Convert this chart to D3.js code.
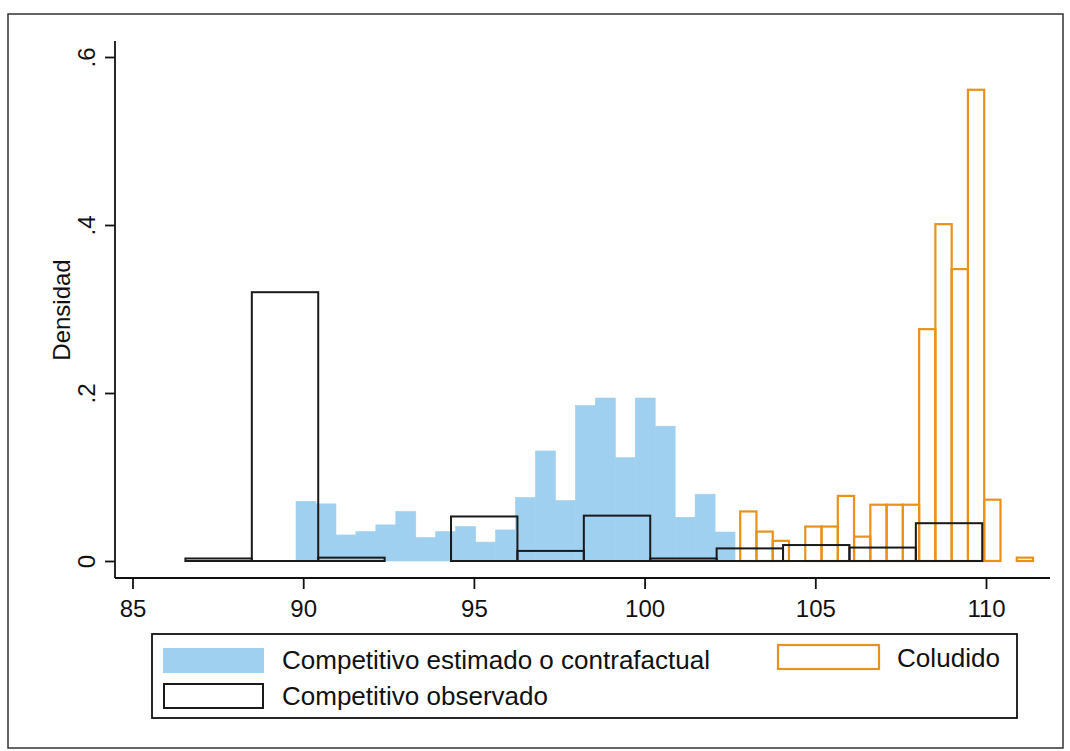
<!DOCTYPE html>
<html>
<head>
<meta charset="utf-8">
<script src="https://cdn.jsdelivr.net/npm/d3@7"></script>
<style>
  html, body { margin: 0; padding: 0; background: #fff; }
  svg { display: block; font-family: "Liberation Sans", Arial, Helvetica, sans-serif; }
</style>
</head>
<body>
<svg id="chart" width="1070" height="751"></svg>
<script>
// ---- data ----
const xTicks = [85, 90, 95, 100, 105, 110];
const yTicks = [0, 0.2, 0.4, 0.6];
const yTickLabels = ["0", ".2", ".4", ".6"];
const yLabel = "Densidad";

// Competitivo estimado o contrafactual (blue, filled)
const blueStart = 89.79;
const blueWidth = 0.5845;
const blueValues = [0.071, 0.068, 0.031, 0.035, 0.043, 0.059, 0.028, 0.035, 0.041, 0.0225, 0.037,
                    0.0755, 0.131, 0.072, 0.185, 0.194, 0.123, 0.194, 0.1605, 0.052, 0.0795, 0.0345];

// Competitivo observado (black outline)
const blackStart = 86.55;
const blackWidth = 1.945;
const blackValues = [0.003, 0.32, 0.004, 0, 0.053, 0.012, 0.054, 0.003, 0.015, 0.019, 0.016, 0.045];

// Coludido (orange outline)
const orangeStart = 102.80;
const orangeWidth = 0.4765;
const orangeValues = [0.059, 0.035, 0.024, 0, 0.041, 0.041, 0.0775, 0.029, 0.067, 0.067, 0.067,
                      0.276, 0.401, 0.3475, 0.561, 0.073, 0, 0.004];

const legendItems = ["Competitivo estimado o contrafactual", "Coludido", "Competitivo observado"];

// ---- build bins from the arrays ----
const toBins = (start, width, values) =>
  values.map((v, i) => ({ x0: start + i * width, x1: start + (i + 1) * width, v }))
        .filter(d => d.v > 0);

const svg = d3.select("#chart");
const W = 1070, H = 751;

// outer frame
svg.append("rect").attr("x", 8).attr("y", 14).attr("width", 1055).attr("height", 734)
  .attr("fill", "none").attr("stroke", "#333").attr("stroke-width", 1.5);

const x = d3.scaleLinear().domain([85, 110]).range([132.5, 986]);
const y = d3.scaleLinear().domain([0, 0.6]).range([561, 57]);

const axisLeftX = 115, axisBottomY = 578, plotTop = 41, plotRight = 1050;

// bars
const g = svg.append("g");
g.selectAll("rect.blue").data(toBins(blueStart, blueWidth, blueValues)).join("rect")
  .attr("class", "blue")
  .attr("x", d => x(d.x0)).attr("width", d => x(d.x1) - x(d.x0))
  .attr("y", d => y(d.v)).attr("height", d => y(0) - y(d.v))
  .attr("fill", "#9fd0ef").attr("stroke", "#9fd0ef").attr("stroke-width", 0.6);

g.selectAll("rect.orange").data(toBins(orangeStart, orangeWidth, orangeValues)).join("rect")
  .attr("class", "orange")
  .attr("x", d => x(d.x0)).attr("width", d => x(d.x1) - x(d.x0))
  .attr("y", d => y(d.v)).attr("height", d => y(0) - y(d.v))
  .attr("fill", "none").attr("stroke", "#e8921a").attr("stroke-width", 2.2);

g.selectAll("rect.black").data(toBins(blackStart, blackWidth, blackValues)).join("rect")
  .attr("class", "black")
  .attr("x", d => x(d.x0)).attr("width", d => x(d.x1) - x(d.x0))
  .attr("y", d => y(d.v)).attr("height", d => y(0) - y(d.v))
  .attr("fill", "none").attr("stroke", "#1a1a1a").attr("stroke-width", 2);

// axes lines
svg.append("line").attr("x1", axisLeftX).attr("x2", axisLeftX).attr("y1", plotTop).attr("y2", axisBottomY)
  .attr("stroke", "#111").attr("stroke-width", 1.8);
svg.append("line").attr("x1", axisLeftX).attr("x2", plotRight).attr("y1", axisBottomY).attr("y2", axisBottomY)
  .attr("stroke", "#111").attr("stroke-width", 1.8);

// x axis
const xAxis = svg.append("g").attr("transform", `translate(0,${axisBottomY})`)
  .call(d3.axisBottom(x).tickValues(xTicks).tickFormat(d3.format("d")).tickSize(11).tickPadding(11));
xAxis.select(".domain").remove();
xAxis.selectAll(".tick line").attr("stroke", "#111").attr("stroke-width", 1.8);
xAxis.selectAll(".tick text").attr("font-size", 24).attr("fill", "#111")
  .attr("font-family", "'Liberation Sans', Arial, sans-serif");

// y axis
const yAxis = svg.append("g").attr("transform", `translate(${axisLeftX},0)`)
  .call(d3.axisLeft(y).tickValues(yTicks).tickSize(10).tickFormat((d, i) => yTickLabels[i]));
yAxis.select(".domain").remove();
yAxis.selectAll(".tick line").attr("stroke", "#111").attr("stroke-width", 1.8);
yAxis.selectAll(".tick text")
  .attr("x", null).attr("dy", null)
  .attr("transform", "translate(-20,0) rotate(-90)")
  .attr("text-anchor", "middle")
  .attr("font-size", 24).attr("fill", "#111")
  .attr("font-family", "'Liberation Sans', Arial, sans-serif");

svg.append("text").attr("transform", "translate(70,310) rotate(-90)")
  .attr("text-anchor", "middle").attr("font-size", 24).attr("fill", "#111").text(yLabel);

// legend
const lg = svg.append("g");
lg.append("rect").attr("x", 152).attr("y", 634).attr("width", 865).attr("height", 84)
  .attr("fill", "#fff").attr("stroke", "#111").attr("stroke-width", 1.8);
lg.append("rect").attr("x", 163).attr("y", 648).attr("width", 101).attr("height", 25)
  .attr("fill", "#9fd0ef");
lg.append("rect").attr("x", 778).attr("y", 645).attr("width", 101).attr("height", 24)
  .attr("fill", "none").attr("stroke", "#e8921a").attr("stroke-width", 2.2);
lg.append("rect").attr("x", 164).attr("y", 684).attr("width", 99).attr("height", 24)
  .attr("fill", "none").attr("stroke", "#1a1a1a").attr("stroke-width", 2);
lg.append("text").attr("x", 282).attr("y", 669).attr("font-size", 25).attr("fill", "#111")
  .attr("textLength", 428).attr("lengthAdjust", "spacingAndGlyphs").text(legendItems[0]);
lg.append("text").attr("x", 897).attr("y", 667).attr("font-size", 25).attr("fill", "#111")
  .attr("textLength", 103).attr("lengthAdjust", "spacingAndGlyphs").text(legendItems[1]);
lg.append("text").attr("x", 282).attr("y", 705).attr("font-size", 25).attr("fill", "#111")
  .attr("textLength", 266).attr("lengthAdjust", "spacingAndGlyphs").text(legendItems[2]);
</script>
</body>
</html>
